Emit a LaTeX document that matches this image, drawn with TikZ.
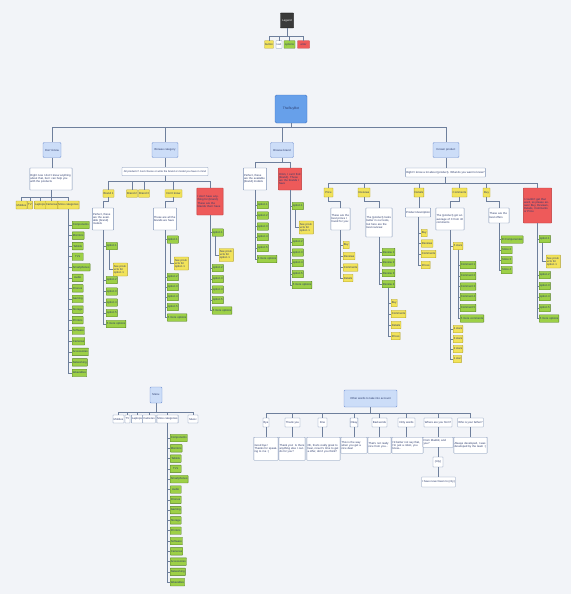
\documentclass[tikz,border=0pt]{standalone}
\usepackage{fontspec}
\setmainfont{Liberation Sans}
\usetikzlibrary{calc}
\definecolor{bgc}{HTML}{F2F4F8}
\definecolor{yel}{HTML}{F2E35A}
\definecolor{yelD}{HTML}{B0A02C}
\definecolor{grn}{HTML}{9DD047}
\definecolor{grnD}{HTML}{557F26}
\definecolor{redc}{HTML}{EE5A5A}
\definecolor{redD}{HTML}{BC3838}
\definecolor{whtD}{HTML}{7A8FB3}
\definecolor{blu}{HTML}{CCDDF8}
\definecolor{bluD}{HTML}{7393D2}
\definecolor{rootc}{HTML}{67A0EA}
\definecolor{rootD}{HTML}{4576C4}
\definecolor{lnc}{HTML}{6E7F9C}
\definecolor{txt}{HTML}{2A3A6C}
\definecolor{lgd}{HTML}{3A3A3A}
\newcommand\seelist[6]{%
 \node[gb,anchor=west] (#1o1) at (#3,#4) {option 1};
 \draw[ln] (#2.south) |- (#1o1.west);
 \node[yb,anchor=west,text width=13pt,align=left,minimum height=13pt] (#1s) at ({#3+7},#5) {See products for option 1};
 \draw[ln] ([xshift=3pt]#1o1.south west) |- (#1s.west);
 \foreach \yy/\lab [count=\k] in {#6} {\node[gb,anchor=west] (#1x\k) at (#3,\yy) {\lab}; \draw[ln] (#2.south) |- (#1x\k.west);}
}
\newcommand\plainlist[5]{%
 \foreach \yy/\lab [count=\k] in {#5} {\node[#4,anchor=west] (#1\k) at (#3,\yy) {\lab}; \draw[ln] (#2.south) |- (#1\k.west);}
}
\begin{document}
\begin{tikzpicture}[x=1pt,y=-1pt,
 base/.style={draw, line width=0.4pt, inner sep=0.6pt, font=\fontsize{2.8}{3.2}\selectfont, text=txt, rounded corners=0.4pt},
 yb/.style={base, fill=yel, draw=yelD, minimum height=7.5pt},
 gb/.style={base, fill=grn, draw=grnD, minimum height=7.5pt, minimum width=11pt},
 wb/.style={base, fill=white, draw=whtD},
 rb/.style={base, fill=redc, draw=redD},
 lb/.style={base, fill=blu, draw=bluD, minimum height=15pt, rounded corners=1pt},
 tb/.style 2 args={wb, text width=#1, minimum height=#2, align=left},
 rt/.style 2 args={rb, text width=#1, minimum height=#2, align=left},
 ln/.style={draw=lnc, line width=0.5pt}]
\useasboundingbox (0,0) rectangle (571,594);
\fill[bgc] (0,0) rectangle (571,594);

% legend
\node[base, fill=lgd, draw=black, text=white, minimum width=13pt, minimum height=15pt] (lg) at (287,20.5) {Legend};
\node[yb, minimum width=8pt] (lg1) at (269,44.5) {button};
\node[wb, minimum width=6pt, minimum height=7.5pt] (lg2) at (279,44.5) {text};
\node[gb, minimum width=11pt] (lg3) at (289.5,44.5) {options};
\node[rb, minimum width=12pt, minimum height=7.5pt] (lg4) at (303.5,44.5) {error};
\foreach \c in {lg1,lg2,lg3,lg4} \draw[ln] (lg.south) -- ++(0,8.5) -| (\c.north);

% root
\node[base, fill=rootc, draw=rootD, minimum width=32pt, minimum height=28pt, rounded corners=1.5pt, font=\fontsize{3.3}{4}\selectfont] (root) at (291,109) {TheBuyBot};
\node[lb, minimum width=18pt] (dk) at (52,150) {Don't know};
\node[lb, minimum width=26pt] (bc) at (165,150) {Browse category};
\node[lb, minimum width=23pt] (bbr) at (282,150) {Browse brand};
\node[lb, minimum width=26pt] (kp) at (446,150) {Known product};
\foreach \c in {dk,bc,bbr,kp} \draw[ln] (root.south) -- ++(0,4) -| (\c.north);

% don't know
\node[tb={41pt}{22pt}] (t1) at (51,179) {Right now I don't know anything about that, but I can help you with the products};
\draw[ln] (dk.south) -- (dk.south |- t1.north);
\node[yb, minimum width=11pt, minimum height=8pt] (d1) at (21.5,205) {Mobiles};
\node[yb, minimum width=4pt, minimum height=8pt] (d2) at (30,205) {TV};
\node[yb, minimum width=10pt, minimum height=8pt] (d3) at (40,205) {Laptops};
\node[yb, minimum width=11pt, minimum height=8pt] (d4) at (51.5,205) {Cameras};
\node[yb, minimum width=21pt, minimum height=8pt] (d5) at (68.5,205) {More categories};
\foreach \c in {d1,d2,d3,d4,d5} \draw[ln] (t1.south) -- ++(0,7) -| (\c.north);
\foreach \lab [count=\k] in {Components,Monitors,Tablets,TVs,Smartphones,Audio,Drones,Gaming,Storage,Printers,Software,Cameras,Accessories,Networking,Wearables}
 {\node[gb,anchor=west] (mc\k) at (72,{225+(\k-1)*10.57}) {\lab}; \draw[ln] (d5.south) |- (mc\k.west);}

% browse category
\node[wb, minimum width=86pt, minimum height=8pt, font=\fontsize{2.6}{3}\selectfont] (t2) at (165,171.5) {All products? Just choose or write the brand or model you have in mind};
\draw[ln] (bc.south) -- (t2.north);
\node[yb, minimum width=11pt] (b1) at (108.5,193.5) {Brand 1};
\node[yb, minimum width=10pt] (b2) at (132,193.5) {Brand 2};
\node[yb, minimum width=11pt] (b3) at (144,193.5) {Brand 3};
\node[yb, minimum width=17pt] (b4) at (173.5,193.5) {Don't know};
\node[rt={25pt}{27pt}] (b5) at (210,201.5) {I don't have anything for \{brand\}. These are the brands that I have};
\foreach \c in {b1,b2,b3,b4,b5} \draw[ln] (t2.south) -- ++(0,5.5) -| (\c.north);
\node[tb={20pt}{22pt}] (tb1) at (103,219) {Perfect, these are the available \{brand\} models};
\draw[ln] (b1.south) -- ++(0,4) -| (tb1.north);
\seelist{pa}{tb1}{106}{246}{269.5}{280/option 2,291.5/option 3,302.5/option 4,313/option 5,324/5 more options}
\node[tb={22pt}{22pt}] (tb4) at (165,219) {These are all the brands we have};
\draw[ln] (b4.south) -- ++(0,4) -| (tb4.north);
\seelist{pb}{tb4}{167}{239.5}{263.5}{277/option 2,287/option 3,297/option 4,307/option 5,317.5/5 more options}
\seelist{pc}{b5}{212}{232.5}{255}{268/option 2,279/option 3,289.5/option 4,300/option 5,310.5/5 more options}

% browse brand
\node[tb={22pt}{22pt}] (tbb1) at (255,179) {Perfect, these are the available \{brand\} models};
\node[rt={22pt}{22pt}] (tbb2) at (290,179) {Hmm, I can't find \{brand\}. These are the brands I have};
\foreach \c in {tbb1,tbb2} \draw[ln] (bbr.south) -- ++(0,4.5) -| (\c.north);
\plainlist{bbo}{tbb1}{257}{gb}{205/option 1,215.5/option 2,226.5/option 3,237/option 4,248/option 5,259/5 more options}
\seelist{pd}{tbb2}{292}{206}{227.5}{242/option 2,252.5/option 3,263/option 4,274/option 5,285/5 more options}

% known product
\node[wb, minimum width=75pt, minimum height=9pt] (t4) at (445.5,172.5) {Right! I know a lot about \{product\}. What do you want to know?};
\draw[ln] (kp.south) -- (kp.south |- t4.north);
\node[yb, minimum width=9pt, minimum height=9pt] (pr) at (328.5,192.5) {Price};
\node[yb, minimum width=12pt, minimum height=9pt] (rv) at (364,192.5) {Reviews};
\node[yb, minimum width=8pt, minimum height=9pt] (dt) at (419,192.5) {Details};
\node[yb, minimum width=15pt, minimum height=9pt] (cm) at (459.5,192.5) {Comments};
\node[yb, minimum width=7pt, minimum height=9pt] (by) at (486.5,192.5) {Buy};
\node[rt={27pt}{35pt}] (er) at (537.5,205.5) {I couldn't get that word, so please answer Buy, Reviews, Details, Comments or Price};
\foreach \c in {pr,rv,dt,cm,by,er} \draw[ln] (t4.south) -- ++(0,6) -| (\c.north);

\node[tb={18pt}{22pt}] (tpr) at (340.5,219) {These are the best prices I found for you:};
\draw[ln] (pr.south) -- ++(0,4) -| (tpr.north);
\plainlist{pri}{tpr}{343}{yb}{245/Buy,256/Reviews,267.5/Comments,278/Details}

\node[tb={25pt}{29pt}] (trv) at (379,222.5) {The \{product\} looks better in our tests, but here are the best reviews:};
\draw[ln] (rv.south) -- ++(0,4) -| (trv.north);
\plainlist{rvi}{trv}{382}{gb}{252/Review 1,262.5/Review 2,273/Review 3,284/Review 4}
\plainlist{rvb}{rvi4}{391}{yb}{303/Buy,314/Comments,325/Details,336/Prices}

\node[wb, minimum width=24pt, minimum height=9pt] (tdt) at (418,212.5) {Product description};
\draw[ln] (dt.south) -- (dt.south |- tdt.north);
\plainlist{dti}{tdt}{421}{yb}{233/Buy,243.5/Reviews,254/Comments,265/Prices}

\node[tb={27pt}{22pt}] (tcm) at (450,219) {The \{product\} got an average of X from 40 comments};
\draw[ln] (cm.south) -- ++(0,4) -| (tcm.north);
\plainlist{st}{tcm}{453}{yb}{246/5 stars}
\plainlist{cmi}{st1}{460}{gb}{265/Comment 1,276/Comment 2,286.5/Comment 3,297/Comment 4,308/Comment 5,318.5/5 more comments}
\plainlist{sto}{tcm}{453}{yb}{329/4 stars,339/3 stars,349/2 stars,359/1 star}

\node[tb={19pt}{15pt}] (tby) at (499,215.5) {These are the best offers};
\draw[ln] (by.south) -- ++(0,4) -| (tby.north);
\plainlist{byi}{tby}{501}{gb}{239.5/PcComponentes,250/Store 2,260/Store 3,270/Store 4}

\seelist{pe}{er}{539}{239}{261.5}{275/option 2,286/option 3,297/option 4,308/option 5,318.5/5 more options}

% menu
\node[lb, fill=blu, minimum width=12pt, minimum height=16pt] (menu) at (156,395) {Menu};
\node[wb, minimum width=11pt, minimum height=8pt] (m1) at (118.5,419) {Mobiles};
\node[wb, minimum width=5pt, minimum height=8pt] (m2) at (127.5,419) {TV};
\node[wb, minimum width=10pt, minimum height=8pt] (m3) at (137,419) {Laptops};
\node[wb, minimum width=12pt, minimum height=8pt] (m4) at (149,419) {Cameras};
\node[wb, minimum width=21pt, minimum height=8pt] (m5) at (167.5,419) {More categories};
\node[wb, minimum width=10pt, minimum height=8pt] (m6) at (193,419) {Music};
\foreach \c in {m1,m2,m3,m4,m5,m6} \draw[ln] (menu.south) -- ++(0,9) -| (\c.north);
\foreach \lab [count=\k] in {Components,Monitors,Tablets,TVs,Smartphones,Audio,Drones,Gaming,Storage,Printers,Software,Cameras,Accessories,Networking,Wearables}
 {\node[gb,anchor=west] (mm\k) at (170,{438+(\k-1)*10.3}) {\lab}; \draw[ln] ([xshift=-0.5pt]m5.south) |- (mm\k.west);}

% other words
\node[lb, minimum width=53pt, minimum height=17pt] (ow) at (370.5,398.5) {Other words to take into account};
\node[wb, minimum width=6pt, minimum height=9pt] (w1) at (266,422.5) {Bye};
\node[wb, minimum width=15pt, minimum height=9pt] (w2) at (292.5,422.5) {Thank you};
\node[wb, minimum width=9pt, minimum height=9pt] (w3) at (322.5,422.5) {Fine};
\node[wb, minimum width=6pt, minimum height=9pt] (w4) at (354,422.5) {Okay};
\node[wb, minimum width=15pt, minimum height=9pt] (w5) at (379.5,422.5) {Bad words};
\node[wb, minimum width=17pt, minimum height=9pt] (w6) at (406.5,422.5) {Dirty words};
\node[wb, minimum width=28pt, minimum height=9pt] (w7) at (438,422.5) {Where are you from?};
\node[wb, minimum width=25pt, minimum height=9pt] (w8) at (470.5,422.5) {Who is your father?};
\foreach \c in {w1,w2,w3,w4,w5,w6,w7,w8} \draw[ln] (ow.south) -- ++(0,6) -| (\c.north);
\node[tb={23pt}{23pt}, anchor=north] (r1) at (266,437) {Good bye! Thanks for speaking to me :)};
\node[tb={25pt}{23pt}, anchor=north] (r2) at (292,437) {Thank you! Is there anything else I can do for you?};
\node[tb={32pt}{23pt}, anchor=north] (r3) at (323.5,437) {Oh, that's really great to hear, now it's time to get a offer, don't you think?};
\node[tb={25pt}{16pt}, anchor=north] (r4) at (354,437) {This is the way when you get a nice deal};
\node[tb={22pt}{16pt}, anchor=north] (r5) at (379.5,437) {That's not really nice from you...};
\node[tb={30pt}{16pt}, anchor=north] (r6) at (407.5,437) {I'd better not say that, I'm just a robot, you know...};
\node[tb={29pt}{10pt}, anchor=north] (r7) at (438,437) {From Madrid, and you?};
\node[tb={32pt}{16pt}, anchor=north] (r8) at (470.5,437) {Always developed, I was developed by the team :)};
\foreach \i in {1,...,8} \draw[ln] (w\i.south) -- (w\i.south |- r\i.north);
\node[wb, minimum width=10pt, minimum height=10pt] (city) at (438,462) {\{city\}};
\node[wb, minimum width=27pt, minimum height=10pt] (nev) at (438.5,482) {I have never been to \{city\}};
\draw[ln] (r7.south) -- (r7.south |- city.north);
\draw[ln] (city.south) -- (city.south |- nev.north);
\end{tikzpicture}
\end{document}
